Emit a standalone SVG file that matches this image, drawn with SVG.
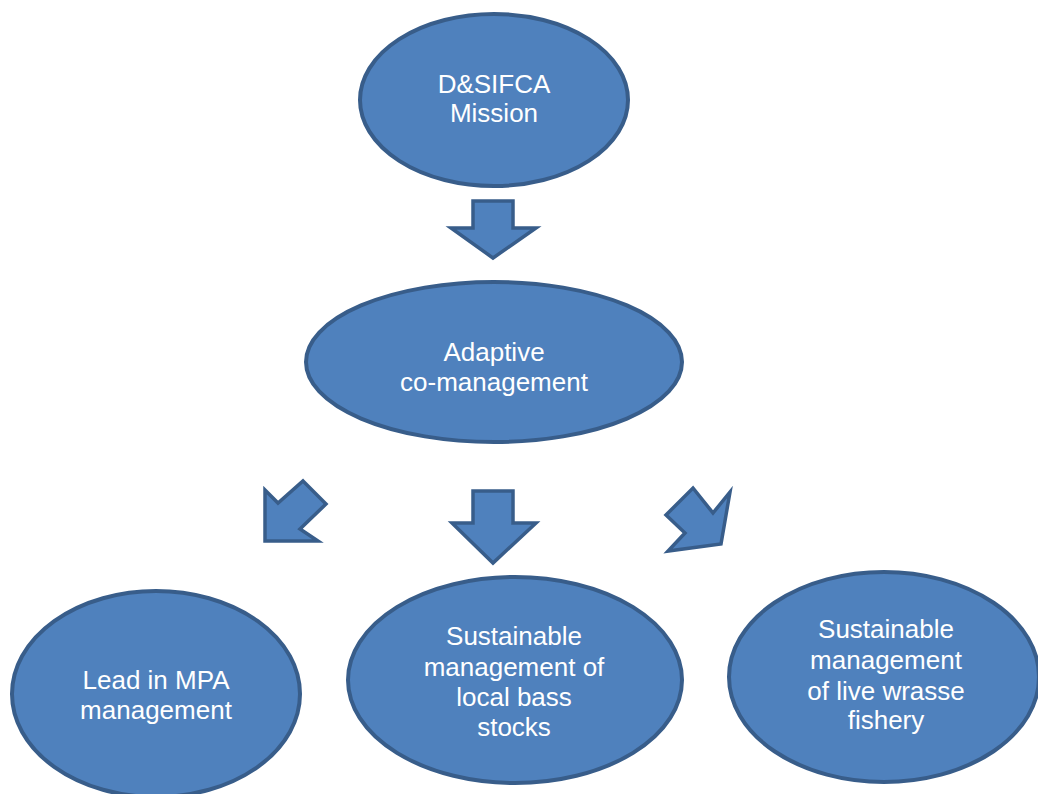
<svg xmlns="http://www.w3.org/2000/svg" width="1038" height="794" viewBox="0 0 1038 794">
  <style>
    .node { fill: #4F81BD; stroke: #385D8A; stroke-width: 4; }
    .arrow { fill: #4F81BD; stroke: #385D8A; stroke-width: 3.5; stroke-linejoin: miter; }
    .label { font-family: "Liberation Sans", Arial, sans-serif; font-size: 26px; fill: #FFFFFF; text-anchor: middle; }
  </style>
  <rect width="1038" height="794" fill="#FFFFFF"/>

  <!-- block arrows between the ovals -->
  <g id="connectors">
    <polygon class="arrow" points="473,201 513,201 513,228 536,228 493,258 451,228 473,228"/>
    <polygon class="arrow" points="473,491 513,491 513,523 536,523 493,563 452,523 473,523"/>
    <polygon class="arrow" points="303,481 326,504 300,529 318,541 265,541 265,490 278,503"/>
    <polygon class="arrow" points="693,488 713,513 730,492 721,544 668,551 685,533 666,515"/>
  </g>

  <g id="mission">
    <ellipse class="node" cx="494" cy="100" rx="134" ry="86"/>
    <text class="label" x="494" y="93">D&amp;SIFCA</text>
    <text class="label" x="494" y="122">Mission</text>
  </g>

  <g id="comanagement">
    <ellipse class="node" cx="494" cy="362" rx="188" ry="80"/>
    <text class="label" x="494" y="361">Adaptive</text>
    <text class="label" x="494" y="391">co-management</text>
  </g>

  <g id="mpa">
    <ellipse class="node" cx="156" cy="694" rx="144" ry="103"/>
    <text class="label" x="156" y="689">Lead in MPA</text>
    <text class="label" x="156" y="719">management</text>
  </g>

  <g id="bass">
    <ellipse class="node" cx="515" cy="680" rx="167" ry="103"/>
    <text class="label" x="514" y="645">Sustainable</text>
    <text class="label" x="514" y="676">management of</text>
    <text class="label" x="514" y="706">local bass</text>
    <text class="label" x="514" y="736">stocks</text>
  </g>

  <g id="wrasse">
    <ellipse class="node" cx="884" cy="677" rx="155" ry="105"/>
    <text class="label" x="886" y="638">Sustainable</text>
    <text class="label" x="886" y="669">management</text>
    <text class="label" x="886" y="700">of live wrasse</text>
    <text class="label" x="886" y="729">fishery</text>
  </g>
</svg>
